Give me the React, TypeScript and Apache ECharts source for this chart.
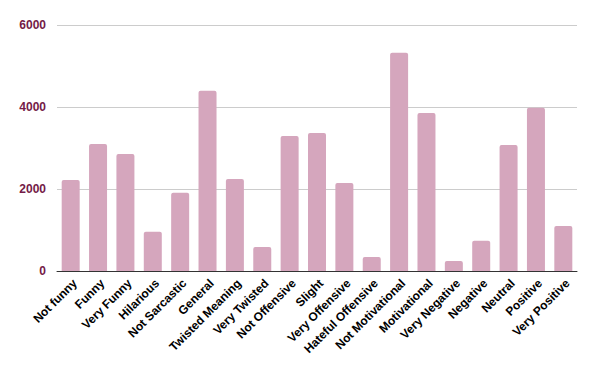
import React, { useEffect, useRef } from "react";
import * as echarts from "echarts";

const categories = [
  "Not funny", "Funny", "Very Funny", "Hilarious", "Not Sarcastic", "General",
  "Twisted Meaning", "Very Twisted", "Not Offensive", "Slight", "Very Offensive",
  "Hateful Offensive", "Not Motivational", "Motivational", "Very Negative",
  "Negative", "Neutral", "Positive", "Very Positive",
];
const counts = [
  2220, 3098, 2854, 959, 1911, 4398, 2244, 585, 3293, 3366, 2146, 341, 5325,
  3854, 244, 740, 3073, 3984, 1098,
];
const yTicks = [0, 2000, 4000, 6000];

export default function App() {
  const ref = useRef<HTMLDivElement>(null);
  useEffect(() => {
    const chart = echarts.init(ref.current!, null, { renderer: "svg" });
    chart.setOption({
      animation: false,
      grid: { left: 57, right: 23, top: 25, bottom: 100 },
      xAxis: {
        type: "category",
        data: categories,
        axisLine: { lineStyle: { color: "#333333", width: 1 } },
        axisTick: { show: false },
        axisLabel: {
          rotate: 45,
          interval: 0,
          margin: 6,
          verticalAlign: "top",
          color: "#000000",
          fontFamily: "Liberation Sans, Arial, sans-serif",
          fontWeight: "bold",
          fontSize: 12,
        },
      },
      yAxis: {
        type: "value",
        min: yTicks[0],
        max: yTicks[yTicks.length - 1],
        interval: 2000,
        axisLine: { show: false },
        axisTick: { show: false },
        splitLine: { lineStyle: { color: "#cccccc", width: 1 } },
        axisLabel: {
          margin: 11,
          formatter: (v: number) => String(v),
          color: "#741b47",
          fontFamily: "Liberation Sans, Arial, sans-serif",
          fontWeight: "bold",
          fontSize: 12,
        },
      },
      series: [
        {
          type: "bar",
          data: counts,
          barWidth: 18,
          itemStyle: { color: "#d5a6bd", borderRadius: [2, 2, 0, 0] },
        },
      ],
    });
    return () => chart.dispose();
  }, []);
  return <div ref={ref} style={{ width: 600, height: 371, position: "absolute", left: 0, top: 0 }} />;
}
